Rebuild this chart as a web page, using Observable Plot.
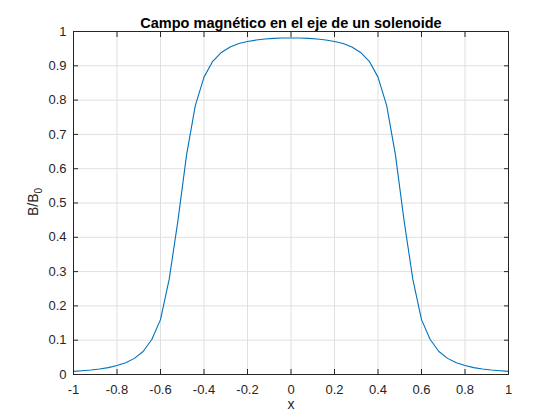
<!DOCTYPE html>
<html><head><meta charset="utf-8">
<script src="https://cdn.jsdelivr.net/npm/d3@7"></script>
<script src="https://cdn.jsdelivr.net/npm/@observablehq/plot@0.6"></script>
<style>body{margin:0;background:#fff}</style>
</head><body><div id="chart"></div>
<script>
const xValues = [-1,-0.96,-0.92,-0.88,-0.84,-0.8,-0.76,-0.72,-0.68,-0.64,-0.6,-0.56,-0.52,-0.48,-0.44,-0.4,-0.36,-0.32,-0.28,-0.24,-0.2,-0.16,-0.12,-0.08,-0.04,0,
  0.04,0.08,0.12,0.16,0.2,0.24,0.28,0.32,0.36,0.4,0.44,0.48,0.52,0.56,0.6,0.64,0.68,0.72,0.76,0.8,0.84,0.88,0.92,0.96,1];
const bValues = [0.009,0.011,0.013,0.016,0.020,0.026,0.034,0.047,0.067,0.102,0.160,0.278,0.448,0.641,0.784,0.867,0.913,0.939,0.955,0.965,0.971,0.975,0.978,0.980,0.981,0.981,
  0.981,0.980,0.978,0.975,0.971,0.965,0.955,0.939,0.913,0.867,0.784,0.641,0.448,0.278,0.160,0.102,0.067,0.047,0.034,0.026,0.020,0.016,0.013,0.011,0.009];
const xTicks = [-1,-0.8,-0.6,-0.4,-0.2,0,0.2,0.4,0.6,0.8,1];
const xTickLabels = ["-1","-0.8","-0.6","-0.4","-0.2","0","0.2","0.4","0.6","0.8","1"];
const yTicks = [0,0.1,0.2,0.3,0.4,0.5,0.6,0.7,0.8,0.9,1];
const yTickLabels = ["0","0.1","0.2","0.3","0.4","0.5","0.6","0.7","0.8","0.9","1"];
const title = "Campo magnético en el eje de un solenoide";
const xLabel = "x";
const yLabelMain = "B/B";
const yLabelSub = "0";

const data = xValues.map((x, i) => ({x, b: bValues[i]}));
const font = "'Liberation Sans', Arial, Helvetica, sans-serif";
const axisColor = "#262626";
const gridColor = "#e0e0e0";

const plot = Plot.plot({
  width: 560, height: 420,
  marginLeft: 73, marginRight: 52, marginTop: 31, marginBottom: 46,
  style: {fontFamily: font, fontSize: "13px", color: axisColor, background: "#fff"},
  x: {domain: [-1, 1]},
  y: {domain: [0, 1]},
  marks: [
    Plot.gridX(xTicks, {stroke: gridColor, strokeOpacity: 1}),
    Plot.gridY(yTicks, {stroke: gridColor, strokeOpacity: 1}),
    Plot.line(data, {x: "x", y: "b", stroke: "#0072BD", strokeWidth: 1.1}),
    Plot.frame({stroke: axisColor, strokeWidth: 1}),
    Plot.axisX(xTicks, {anchor: "bottom", tickSize: -5, tickPadding: 15, label: null, fill: axisColor,
      tickFormat: d => xTickLabels[xTicks.indexOf(d)]}),
    Plot.axisX(xTicks, {anchor: "top", tickSize: -5, label: null, tickFormat: () => ""}),
    Plot.axisY(yTicks, {anchor: "left", tickSize: -5, tickPadding: 12, label: null, fill: axisColor,
      tickFormat: d => yTickLabels[yTicks.indexOf(d)]}),
    Plot.axisY(yTicks, {anchor: "right", tickSize: -5, label: null, tickFormat: () => ""}),
    Plot.text([title], {frameAnchor: "top", dy: -14, fontWeight: "bold", fontSize: 14.5, fill: "#000"}),
    Plot.text([xLabel], {frameAnchor: "bottom", dy: 34, fontSize: 14, fill: axisColor})
  ]
});
document.getElementById("chart").appendChild(plot);

const svg = d3.select(plot);
const yl = svg.append("text")
  .attr("transform", "translate(38,202) rotate(-90)")
  .attr("text-anchor", "middle")
  .attr("font-family", font)
  .attr("font-size", 14)
  .attr("fill", axisColor);
yl.append("tspan").text(yLabelMain);
yl.append("tspan").attr("font-size", 10).attr("dy", 4).text(yLabelSub);
</script>
</body></html>
